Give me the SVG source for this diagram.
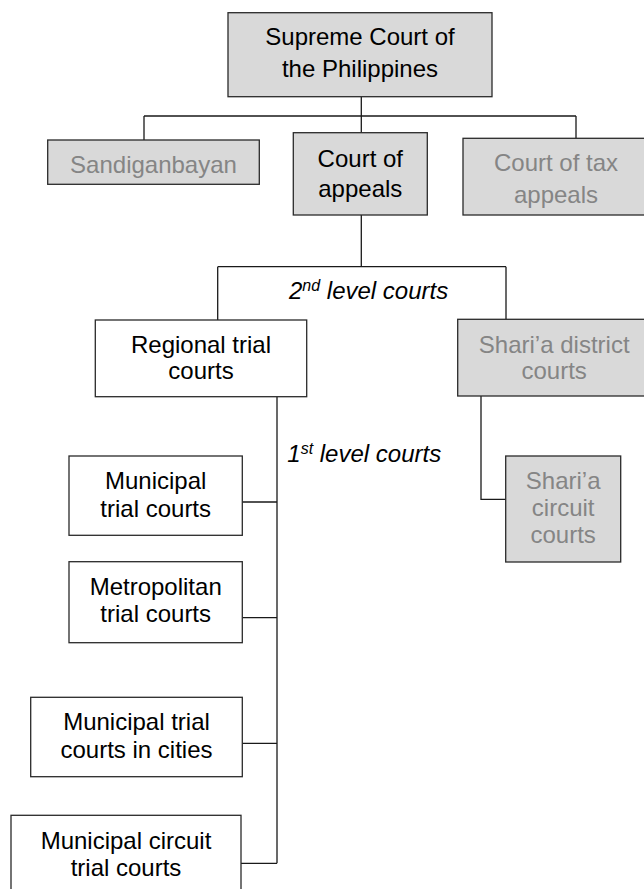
<svg xmlns="http://www.w3.org/2000/svg" width="644" height="889" viewBox="0 0 644 889">
<style>
.box{fill:#ffffff;stroke:#2a2a2a;stroke-width:1.3}
.gbox{fill:#d9d9d9;stroke:#2a2a2a;stroke-width:1.3}
.t{font-family:"Liberation Sans",Arial,sans-serif;font-size:24px;fill:#000000;text-anchor:middle}
.g{fill:#858585}
.lbl{font-family:"Liberation Sans",Arial,sans-serif;font-size:24px;font-style:italic;fill:#000000}
.c{fill:none;stroke:#1a1a1a;stroke-width:1.3}
</style>
<rect width="644" height="889" fill="#ffffff"/>
<g id="connectors">
<path class="c" d="M361.3 96.7 V116 M144 116 H576 M144 116 V140 M361.3 116 V132.7 M576 116 V138.3"/>
<path class="c" d="M361.3 215 V266.7 M217.7 266.7 H506 M217.7 266.7 V320 M506 266.7 V319.3"/>
<path class="c" d="M277 396.7 V863.3 M242.3 502 H277 M242.3 617.7 H277 M242.3 743.3 H277 M241 863.3 H277"/>
<path class="c" d="M481 396 V499.3 H505.7"/>
</g>
<g id="supreme">
<rect class="gbox" x="228" y="12.7" width="264" height="84"/>
<text class="t" x="360" y="45">Supreme Court of</text>
<text class="t" x="360" y="76.7">the Philippines</text>
</g>
<g id="sandiganbayan">
<rect class="gbox" x="47.7" y="140" width="211.6" height="44.3"/>
<text class="t g" x="153.5" y="172.7">Sandiganbayan</text>
</g>
<g id="court-of-appeals">
<rect class="gbox" x="293.3" y="132.7" width="134" height="82.3"/>
<text class="t" x="360.3" y="166.7">Court of</text>
<text class="t" x="360.3" y="196.7">appeals</text>
</g>
<g id="court-of-tax-appeals">
<rect class="gbox" x="463" y="138.3" width="186" height="76.7"/>
<text class="t g" x="556" y="171">Court of tax</text>
<text class="t g" x="556" y="202.7">appeals</text>
</g>
<g id="label-2nd">
<text class="lbl" x="289" y="299.3">2<tspan font-size="16" dy="-8">nd</tspan><tspan dy="8"> level courts</tspan></text>
</g>
<g id="regional-trial-courts">
<rect class="box" x="95.3" y="320" width="211.4" height="76.7"/>
<text class="t" x="201" y="352.7">Regional trial</text>
<text class="t" x="201" y="379.3">courts</text>
</g>
<g id="sharia-district-courts">
<rect class="gbox" x="457.7" y="319.3" width="193" height="76.7"/>
<text class="t g" x="554.2" y="353.3">Shari’a district</text>
<text class="t g" x="554.2" y="379.3">courts</text>
</g>
<g id="label-1st">
<text class="lbl" x="287.3" y="461.7">1<tspan font-size="16" dy="-8">st</tspan><tspan dy="8"> level courts</tspan></text>
</g>
<g id="sharia-circuit-courts">
<rect class="gbox" x="505.7" y="456" width="115" height="106"/>
<text class="t g" x="563.2" y="489.3">Shari’a</text>
<text class="t g" x="563.2" y="516.3">circuit</text>
<text class="t g" x="563.2" y="543.3">courts</text>
</g>
<g id="municipal-trial-courts">
<rect class="box" x="69" y="456" width="173.3" height="79.3"/>
<text class="t" x="155.7" y="489.3">Municipal</text>
<text class="t" x="155.7" y="516.7">trial courts</text>
</g>
<g id="metropolitan-trial-courts">
<rect class="box" x="69" y="561.7" width="173.3" height="81"/>
<text class="t" x="155.7" y="595">Metropolitan</text>
<text class="t" x="155.7" y="621.7">trial courts</text>
</g>
<g id="municipal-trial-courts-in-cities">
<rect class="box" x="30.7" y="697.3" width="211.6" height="79.4"/>
<text class="t" x="136.5" y="730">Municipal trial</text>
<text class="t" x="136.5" y="757.7">courts in cities</text>
</g>
<g id="municipal-circuit-trial-courts">
<rect class="box" x="11" y="815.3" width="230" height="90"/>
<text class="t" x="126" y="849.3">Municipal circuit</text>
<text class="t" x="126" y="876">trial courts</text>
</g>
</svg>
